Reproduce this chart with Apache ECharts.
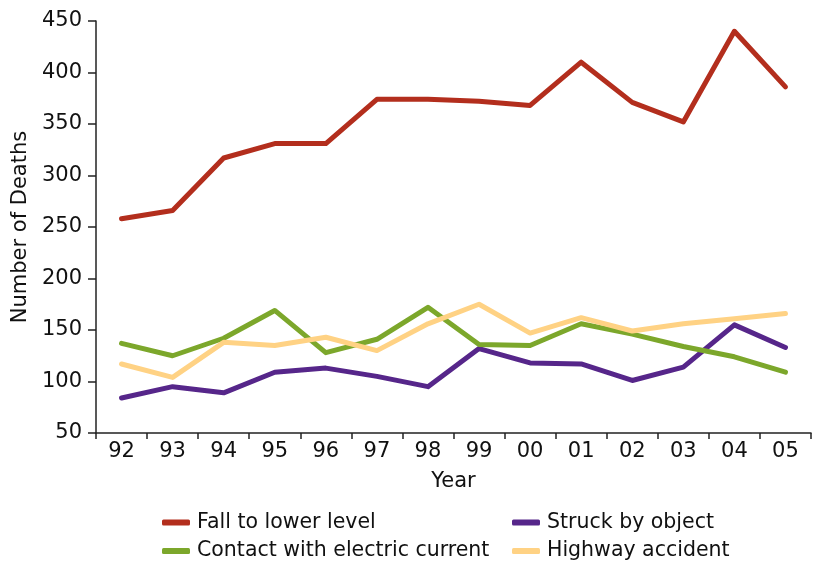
<!DOCTYPE html>
<html>
<head>
<meta charset="utf-8">
<script src="https://cdn.jsdelivr.net/npm/echarts@6/dist/echarts.min.js"></script>
<style>
html,body{margin:0;padding:0;background:#fff;}
#chart{width:821px;height:563px;}
</style>
</head>
<body>
<div id="chart"></div>
<script>
const years = ['92','93','94','95','96','97','98','99','00','01','02','03','04','05'];
const fallToLowerLevel = [258,266,317,331,331,374,374,372,368,410,371,352,440,386];
const struckByObject = [84,95,89,109,113,105,95,132,118,117,101,114,155,133];
const contactElectric = [137,125,142,169,128,141,172,136,135,156,146,134,124,109];
const highwayAccident = [117,104,138,135,143,130,156,175,147,162,149,156,161,166];

const FONT = 'DejaVu Sans';
const TXT = '#111';
const chart = echarts.init(document.getElementById('chart'));
const mk = (name, data, color) => ({
  name, type: 'line', data, symbol: 'none', smooth: false,
  lineStyle: { width: 5, color, cap: 'round', join: 'round' },
  itemStyle: { color },
  emphasis: { disabled: true }
});
const legendCommon = {
  orient: 'vertical', icon: 'roundRect', itemWidth: 28, itemHeight: 6,
  itemGap: 7.5, padding: 0, top: 512,
  textStyle: { fontFamily: FONT, fontSize: 20.5, color: TXT, padding: [0,0,0,2] }
};
chart.setOption({
  animation: false,
  grid: { left: 96, right: 10, top: 21, bottom: 130, containLabel: false },
  legend: [
    Object.assign({ left: 162, data: ['Fall to lower level','Contact with electric current'] }, legendCommon),
    Object.assign({ left: 512, data: ['Struck by object','Highway accident'] }, legendCommon)
  ],
  xAxis: {
    type: 'category', data: years, boundaryGap: true,
    name: 'Year', nameLocation: 'middle', nameGap: 38,
    nameTextStyle: { fontFamily: FONT, fontSize: 21, color: TXT },
    axisLine: { lineStyle: { color: '#222', width: 1.5 } },
    axisTick: { show: true, length: 6, inside: false, lineStyle: { color: '#222', width: 1.5 } },
    axisLabel: { fontFamily: FONT, fontSize: 21, color: TXT, margin: 8 },
    splitLine: { show: false }
  },
  yAxis: {
    type: 'value', min: 50, max: 450, interval: 50,
    name: 'Number of Deaths', nameLocation: 'middle', nameGap: 64, nameRotate: 90,
    nameTextStyle: { fontFamily: FONT, fontSize: 21, color: TXT },
    axisLine: { show: true, lineStyle: { color: '#222', width: 1.5 } },
    axisTick: { show: true, length: 8, lineStyle: { color: '#222', width: 1.5 } },
    axisLabel: { fontFamily: FONT, fontSize: 21, color: TXT, margin: 14 },
    splitLine: { show: false }
  },
  series: [
    mk('Fall to lower level', fallToLowerLevel, '#B32E1D'),
    mk('Struck by object', struckByObject, '#56268A'),
    mk('Contact with electric current', contactElectric, '#7CA72B'),
    mk('Highway accident', highwayAccident, '#FFD284')
  ]
});
</script>
</body>
</html>
